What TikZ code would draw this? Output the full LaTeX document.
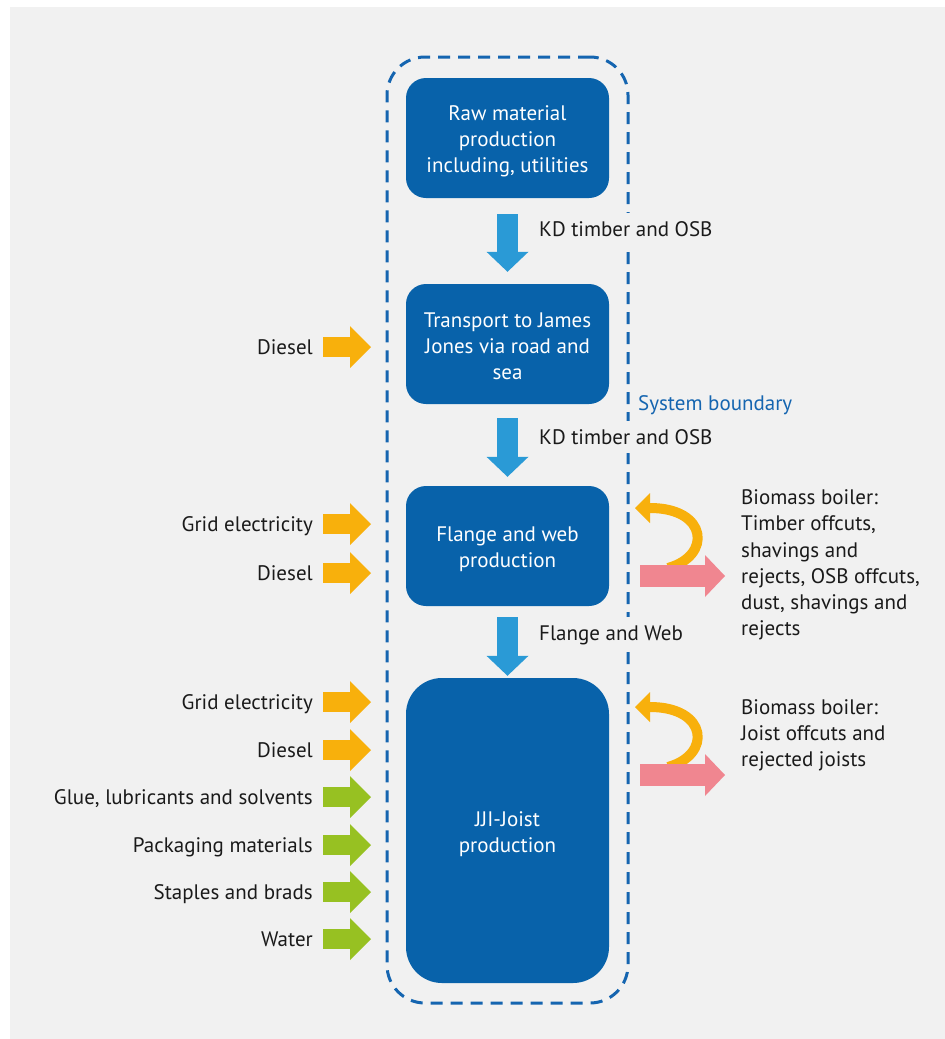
\documentclass[tikz,border=0pt]{standalone}
\usepackage{fontspec}
\setmainfont{PT Sans}
\usetikzlibrary{arrows.meta,calc}
\definecolor{bgc}{HTML}{F1F1F1}
\definecolor{boxblue}{HTML}{0862AA}
\definecolor{arrblue}{HTML}{2A9AD6}
\definecolor{dashblue}{HTML}{1565B0}
\definecolor{orng}{HTML}{F8B00C}
\definecolor{grn}{HTML}{97C122}
\definecolor{pnk}{HTML}{F08690}
\definecolor{txt}{HTML}{1A1A1A}
\begin{document}
\begin{tikzpicture}[x=1pt,y=-1pt,
  every node/.style={font=\fontsize{21}{26.2}\selectfont, inner sep=0pt, text=txt},
  proc/.style={fill=boxblue, rounded corners=20, minimum width=203, minimum height=120},
  proctext/.style={text=white, align=center},
  boundary/.style={draw=dashblue, line width=3, dash pattern=on 12pt off 8pt, rounded corners=38, minimum width=241, minimum height=946},
  flowdown/.style={draw=arrblue, line width=21, -{Triangle[length=20pt,width=42pt,line width=0pt]}},
  inarrow/.style={line width=20, -{Triangle[length=21pt,width=42pt,line width=0pt]}},
  outarrow/.style={draw=pnk, line width=22, -{Triangle[length=20pt,width=42pt,line width=0pt]}},
  recycle/.style={draw=orng, line width=10, -{Triangle[length=15pt,width=30pt,line width=0pt]}},
  inlabel/.style={anchor=east, text height=14, text depth=0},
  flowlabel/.style={anchor=west, text height=14, text depth=0, fill=bgc, inner ysep=9},
  syslabel/.style={anchor=west, text height=14, text depth=0, text=dashblue},
  outlabel/.style={anchor=west, align=left}
]
% background
\fill[white] (0,0) rectangle (945,1039);
\fill[bgc] (10,7) rectangle (945,1039);
\useasboundingbox (0,0) rectangle (945,1039);

% system boundary
\node[boundary] (sys) at (507.5,530) {};
\node[syslabel] (sysl) at (638,403) {System boundary};

% process boxes
\node[proc] (b1) at (507.5,138) {};
\node[proc] (b2) at (507.5,344) {};
\node[proc] (b3) at (507.5,546) {};
\node[proc, minimum height=305, rounded corners=36] (b4) at (507.5,830.5) {};
\node[proctext] (b1t) at ($(b1.center)+(0,3)$) {Raw material\\production\\including, utilities};
\node[proctext] (b2t) at ($(b2.center)+(0,2.5)$) {Transport to James\\Jones via road and\\sea};
\node[proctext] (b3t) at ($(b3.center)+(0,3.5)$) {Flange and web\\production};
\node[proctext] (b4t) at ($(b4.center)+(0,3.5)$) {JJI-Joist\\production};

% flows between boxes
\draw[flowdown] ($(b1.south)+(0,16)$) -- ($(b2.north)+(0,-12)$);
\draw[flowdown] ($(b2.south)+(0,14)$) -- ($(b3.north)+(0,-9)$);
\draw[flowdown] ($(b3.south)+(0,11)$) -- ($(b4.north)+(0,-2)$);
\node[flowlabel] (f1) at (539,229) {KD timber and OSB};
\node[flowlabel] (f2) at (539,437) {KD timber and OSB};
\node[flowlabel] (f3) at (539,633) {Flange and Web};

% inputs
\node[inlabel] (i1) at (313,347) {Diesel};
\node[inlabel] (i2) at (313,524) {Grid electricity};
\node[inlabel] (i3) at (313,573) {Diesel};
\node[inlabel] (i4) at (313,702) {Grid electricity};
\node[inlabel] (i5) at (313,750) {Diesel};
\node[inlabel] (i6) at (313,797) {Glue, lubricants and solvents};
\node[inlabel] (i7) at (313,845) {Packaging materials};
\node[inlabel] (i8) at (313,892) {Staples and brads};
\node[inlabel] (i9) at (313,939) {Water};
\foreach \i/\y/\c in {1/347/orng,2/524/orng,3/573/orng,4/702/orng,5/750/orng,6/797/grn,7/845/grn,8/892/grn,9/939/grn}{
  \coordinate (t\i) at (371,\y);
  \draw[inarrow, draw=\c] (323,\y) -- (t\i);
}

% outputs and recycling
\coordinate (r1s) at (668,568);
\coordinate (r1e) at (635,508);
\draw[recycle] (r1s) .. controls (712,556) and (708,508) .. (r1e);
\coordinate (o1s) at (640,576);
\coordinate (o1e) at (725,576);
\draw[outarrow] (o1s) -- (o1e);
\node[outlabel] (l1) at (741,565) {Biomass boiler:\\Timber offcuts,\\shavings and\\rejects, OSB offcuts,\\dust, shavings and\\rejects};

\coordinate (r2s) at (668,767);
\coordinate (r2e) at (635,707);
\draw[recycle] (r2s) .. controls (712,755) and (708,707) .. (r2e);
\coordinate (o2s) at (640,775);
\coordinate (o2e) at (725,775);
\draw[outarrow] (o2s) -- (o2e);
\node[outlabel] (l2) at (741,735) {Biomass boiler:\\Joist offcuts and\\rejected joists};
\end{tikzpicture}
\end{document}
